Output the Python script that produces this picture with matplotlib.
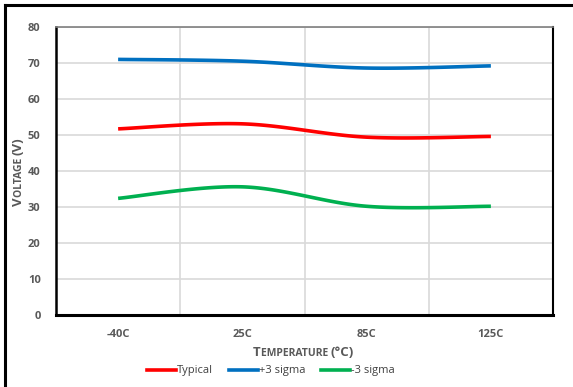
import numpy as np
import matplotlib
matplotlib.use("Agg")
import matplotlib.pyplot as plt
from matplotlib.lines import Line2D
from matplotlib import transforms

categories = ["-40C", "25C", "85C", "125C"]
typical = [51.7, 53.1, 49.4, 49.6]
plus3 = [71.0, 70.5, 68.6, 69.2]
minus3 = [32.4, 35.6, 30.2, 30.2]
y_ticks = [0, 10, 20, 30, 40, 50, 60, 70, 80]

series = [("Typical", typical, "#FF0000"),
          ("+3 sigma", plus3, "#0070C0"),
          ("-3 sigma", minus3, "#00B050")]

plt.rcParams['font.family'] = ['Open Sans', 'DejaVu Sans']
GRAY = "#595959"

def smooth(xs, ys, n=40):
    P = np.column_stack([xs, ys]).astype(float)
    m = len(P)
    out = []
    for i in range(m - 1):
        p0 = P[i - 1] if i > 0 else P[i]
        p1 = P[i]
        p2 = P[i + 1]
        p3 = P[i + 2] if i + 2 < m else P[i + 1]
        c1 = p1 + (p2 - p0) / 6.0
        c2 = p2 - (p3 - p1) / 6.0
        t = np.linspace(0, 1, n)[:, None]
        seg = ((1 - t) ** 3) * p1 + 3 * ((1 - t) ** 2) * t * c1 + 3 * (1 - t) * t ** 2 * c2 + t ** 3 * p2
        out.append(seg if i == 0 else seg[1:])
    out = np.vstack(out)
    return out[:, 0], out[:, 1]

fig = plt.figure(figsize=(5.73, 3.87), dpi=100)
# outer frame (left and top visible)
fig.add_artist(Line2D([5/573, 5/573], [0, 1 - 5/387], color="black", lw=2.2, transform=fig.transFigure))
fig.add_artist(Line2D([5/573, 1], [1 - 5/387, 1 - 5/387], color="black", lw=2.2, transform=fig.transFigure))

ax = fig.add_axes([56/573, 1 - 315/387, (553-56)/573, (315-27)/387])
x = np.arange(len(categories))
for name, vals, col in series:
    sx, sy = smooth(x, vals)
    ax.plot(sx, sy, color=col, lw=2.6, label=name, solid_capstyle="butt")

ax.set_xlim(-0.5, len(categories) - 0.5)
ax.set_ylim(0, 80)
ax.set_yticks(y_ticks)
ax.set_xticks(x)
ax.set_xticklabels(categories)
ax.set_xticks(x[:-1] + 0.5, minor=True)
ax.grid(True, axis="y", which="major", color="#D9D9D9", lw=1.2)
ax.grid(True, axis="x", which="minor", color="#D9D9D9", lw=1.2)
ax.tick_params(axis="both", which="both", length=0)
ax.tick_params(axis="y", pad=11)
ax.tick_params(axis="x", pad=10)
for lab in ax.get_xticklabels() + ax.get_yticklabels():
    lab.set_fontsize(8)
    lab.set_fontweight("bold")
    lab.set_color(GRAY)
ax.set_axisbelow(True)
ax.spines["left"].set_linewidth(1.8)
ax.spines["bottom"].set_linewidth(2.2)
ax.spines["top"].set_color("#7F7F7F")
ax.spines["top"].set_linewidth(1.2)
ax.spines["right"].set_linewidth(1.5)
for s in ax.spines.values():
    s.set_zorder(5)

# small-caps axis labels
fig.canvas.draw()
r = fig.canvas.get_renderer()

def smallcaps(x0, y0, first, rest, rot=0, big=9.5, small=7.5, tail=None):
    t1 = fig.text(x0, y0, first, fontsize=big, fontweight="bold", color=GRAY,
                  rotation=rot, ha="left", va="baseline", rotation_mode="anchor")
    bb = t1.get_window_extent(r)
    if rot == 0:
        tr = transforms.offset_copy(t1.get_transform(), fig=fig, x=bb.width * 72 / fig.dpi, y=0, units="points")
    else:
        tr = transforms.offset_copy(t1.get_transform(), fig=fig, x=0, y=bb.height * 72 / fig.dpi, units="points")
    t2 = fig.text(x0, y0, rest, fontsize=small, fontweight="bold", color=GRAY,
                  rotation=rot, ha="left", va="baseline", rotation_mode="anchor", transform=tr)
    if tail is not None:
        bb2 = t2.get_window_extent(r)
        if rot == 0:
            tr2 = transforms.offset_copy(t1.get_transform(), fig=fig, x=(bb.width + bb2.width) * 72 / fig.dpi, y=0, units="points")
        else:
            tr2 = transforms.offset_copy(t1.get_transform(), fig=fig, x=0, y=(bb.height + bb2.height) * 72 / fig.dpi, units="points")
        fig.text(x0, y0, tail, fontsize=big, fontweight="bold", color=GRAY,
                 rotation=rot, ha="left", va="baseline", rotation_mode="anchor", transform=tr2)

smallcaps(253/573, 1 - 356/387, "T", "EMPERATURE ", tail="(°C)")
smallcaps(22/573, 1 - 206/387, "V", "OLTAGE ", rot=90, tail="(V)")

handles = [Line2D([], [], color=c, lw=2.6) for _, _, c in series]
fig.legend(handles, [n for n, _, _ in series], loc="center", bbox_to_anchor=(271/573, 1 - 371/387),
           ncol=3, frameon=False, fontsize=8, handlelength=2.6, handletextpad=0.1, columnspacing=1.4,
           labelcolor="#404040")

fig.savefig("out.png", dpi=100)
